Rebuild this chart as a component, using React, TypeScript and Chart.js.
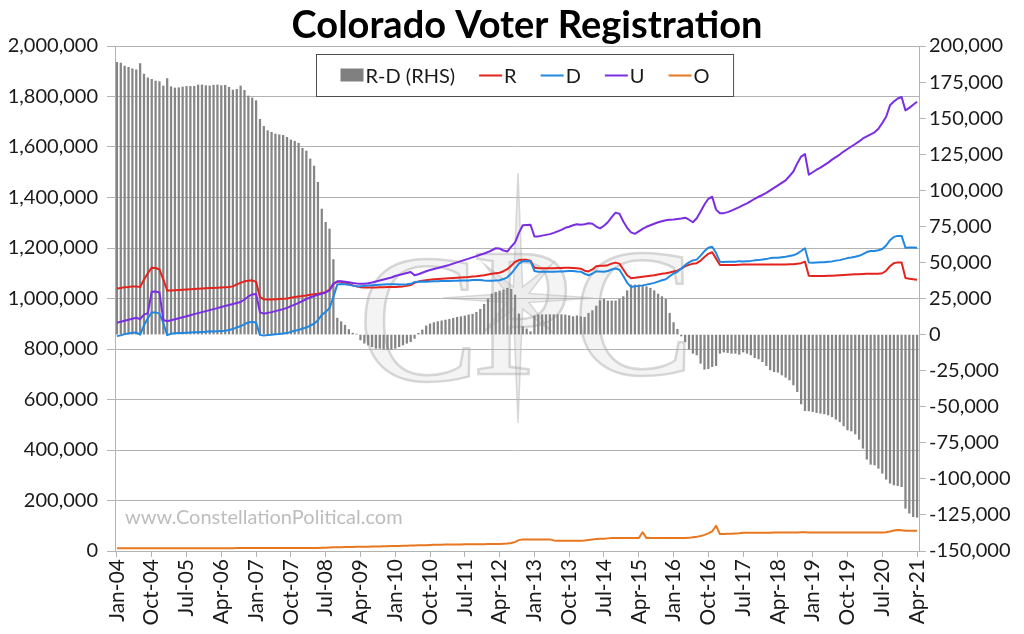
import React, { useEffect, useRef } from 'react';
import { Chart, registerables } from 'chart.js';

Chart.register(...registerables);

const FONT = "Lato, 'Open Sans', sans-serif";
const TITLE = 'Colorado Voter Registration';
const WATERMARK = 'www.ConstellationPolitical.com';

const MONTH_NAMES = ['Jan', 'Feb', 'Mar', 'Apr', 'May', 'Jun', 'Jul', 'Aug', 'Sep', 'Oct', 'Nov', 'Dec'];
const YEARS = ['04', '05', '06', '07', '08', '09', '10', '11', '12', '13', '14', '15', '16', '17', '18', '19', '20', '21'];
const LAST_MONTH_COUNT = 4; // Jan-21 .. Apr-21
const TICK_EVERY = 9;

const CATEGORIES: string[] = [];
YEARS.forEach((yy, yi) => {
  const n = yi === YEARS.length - 1 ? LAST_MONTH_COUNT : 12;
  for (let m = 0; m < n; m++) CATEGORIES.push(`${MONTH_NAMES[m]}-${yy}`);
});

// Values in thousands of voters
const R_VALUES = [
  1040, 1042, 1045, 1046, 1048, 1048, 1045, 1075, 1100, 1122, 1121, 1115,
  1075, 1032, 1032, 1033, 1034, 1035, 1036, 1037, 1038, 1039, 1040, 1041,
  1042, 1042, 1043, 1044, 1045, 1046, 1048, 1056, 1062, 1068, 1070, 1072,
  1066, 1005, 997, 996, 996, 997, 998, 999, 1000, 1003, 1006, 1008,
  1010, 1012, 1015, 1017, 1019, 1022, 1025, 1035, 1058, 1066, 1066, 1063,
  1058, 1052, 1048, 1045, 1044, 1044, 1044, 1044, 1045, 1045, 1046, 1046,
  1046, 1047, 1048, 1050, 1053, 1062, 1067, 1070, 1072, 1074, 1076, 1077,
  1078, 1079, 1080, 1081, 1082, 1083, 1084, 1085, 1087, 1088, 1090, 1092,
  1095, 1098, 1100, 1102, 1108, 1116, 1130, 1145, 1152, 1153, 1153, 1150,
  1122, 1120, 1120, 1120, 1120, 1120, 1121, 1121, 1122, 1122, 1121, 1120,
  1118, 1110, 1107, 1115, 1128, 1130, 1130, 1132, 1138, 1142, 1138, 1115,
  1092, 1080, 1082, 1084, 1086, 1088, 1090, 1092, 1095, 1098, 1100, 1103,
  1107, 1110, 1118, 1127, 1133, 1138, 1140, 1150, 1164, 1177, 1183, 1158,
  1133, 1133, 1133, 1133, 1133, 1134, 1135, 1135, 1135, 1135, 1135, 1135,
  1135, 1135, 1135, 1135, 1135, 1135, 1136, 1136, 1138, 1140, 1146, 1090,
  1089, 1089, 1089, 1089, 1090, 1090, 1091, 1092, 1093, 1094, 1095, 1096,
  1096, 1097, 1098, 1098, 1098, 1098, 1100, 1110, 1128, 1140, 1143, 1143,
  1081, 1078, 1076, 1074,
];

const D_VALUES = [
  851, 854, 859, 861, 864, 865, 857, 894, 922, 945, 945, 940,
  903, 855, 860, 862, 863, 863, 864, 865, 866, 866, 867, 868,
  870, 869, 870, 871, 872, 875, 879, 886, 890, 899, 905, 908,
  904, 856, 853, 855, 856, 858, 859, 861, 863, 868, 872, 875,
  881, 885, 893, 900, 914, 935, 947, 962, 1006, 1055, 1057, 1056,
  1054, 1051, 1048, 1049, 1050, 1051, 1052, 1053, 1054, 1055, 1056, 1056,
  1056, 1055, 1055, 1056, 1058, 1065, 1066, 1067, 1066, 1067, 1068, 1068,
  1069, 1069, 1069, 1070, 1070, 1071, 1071, 1071, 1073, 1073, 1073, 1071,
  1070, 1070, 1071, 1072, 1077, 1084, 1099, 1118, 1138, 1148, 1149, 1148,
  1109, 1106, 1106, 1106, 1106, 1106, 1107, 1107, 1108, 1109, 1109, 1107,
  1106, 1098, 1092, 1098, 1108, 1107, 1106, 1109, 1115, 1119, 1114, 1089,
  1062, 1046, 1048, 1050, 1052, 1055, 1058, 1062, 1067, 1072, 1076, 1088,
  1099, 1106, 1119, 1132, 1143, 1151, 1154, 1170, 1188, 1201, 1205, 1180,
  1146, 1145, 1146, 1146, 1146, 1148, 1147, 1148, 1149, 1151, 1152, 1154,
  1156, 1160, 1161, 1161, 1163, 1165, 1168, 1171, 1178, 1188, 1199, 1143,
  1142, 1143, 1144, 1144, 1146, 1147, 1150, 1152, 1156, 1160, 1162, 1165,
  1169, 1176, 1184, 1188, 1188, 1191, 1196, 1210, 1231, 1244, 1248, 1248,
  1201, 1202, 1202, 1201,
];

const U_VALUES = [
  904, 908, 912, 916, 920, 924, 918, 936, 942, 1027, 1028, 1024,
  915, 910, 914, 918, 922, 926, 930, 934, 938, 942, 946, 950,
  954, 958, 962, 966, 970, 974, 978, 982, 986, 996, 1008, 1016,
  1018, 945, 940, 943, 946, 950, 954, 958, 963, 970, 976, 983,
  990, 998, 1004, 1010, 1015, 1019, 1024, 1032, 1058, 1068, 1068, 1066,
  1064, 1061, 1059, 1058, 1058, 1060, 1063, 1067, 1071, 1075, 1079, 1083,
  1089, 1093, 1097, 1101, 1105, 1092, 1096, 1102, 1108, 1113, 1117, 1121,
  1125, 1129, 1133, 1138, 1143, 1148, 1153, 1158, 1163, 1168, 1173, 1178,
  1184, 1191, 1199, 1198, 1190, 1186, 1205, 1222, 1260, 1290, 1291, 1292,
  1246, 1246, 1249, 1252, 1255, 1260, 1266, 1272, 1280, 1284, 1290, 1294,
  1292, 1294, 1298, 1296, 1285, 1278, 1288, 1302, 1322, 1340, 1336, 1305,
  1280, 1262, 1256, 1266, 1276, 1284, 1290, 1296, 1302, 1306, 1310, 1312,
  1313, 1315, 1317, 1320, 1312, 1302, 1318, 1345, 1372, 1395, 1403, 1352,
  1338, 1338, 1342, 1348, 1355, 1362, 1370, 1377, 1386, 1395, 1403, 1410,
  1418, 1428, 1438, 1448, 1458, 1468, 1485, 1503, 1535, 1562, 1572, 1490,
  1500, 1510, 1518, 1528, 1538, 1550, 1560, 1570, 1582, 1592, 1602, 1612,
  1622, 1634, 1642, 1650, 1658, 1672, 1695, 1720, 1765, 1780, 1792, 1798,
  1745, 1755, 1767, 1779,
];

const O_VALUES = [
  10.5, 10.5, 10.6, 10.6, 10.7, 10.7, 10.8, 10.8, 10.9, 10.9, 11.0, 11.0,
  11.0, 11.0, 11.0, 11.0, 11.0, 11.0, 11.1, 11.1, 11.1, 11.1, 11.2, 11.2,
  11.2, 11.2, 11.2, 11.3, 11.3, 11.3, 11.3, 11.4, 11.4, 11.4, 11.4, 11.5,
  11.5, 11.5, 11.5, 11.5, 11.5, 11.6, 11.6, 11.6, 11.6, 11.6, 11.6, 11.6,
  11.7, 11.8, 11.9, 12.0, 12.2, 12.5, 13.0, 14.0, 15.0, 15.0, 15.2, 15.5,
  16.0, 16.0, 16.5, 17.0, 17.0, 17.2, 17.5, 18.0, 18.0, 18.5, 19.0, 19.5,
  20.0, 20.0, 20.5, 21.0, 22.0, 22.0, 22.5, 23.0, 23.0, 24.0, 25.0, 25.0,
  25.0, 25.5, 26.0, 26.0, 26.0, 26.0, 26.5, 27.0, 27.0, 27.0, 27.0, 27.0,
  27.5, 28.0, 28.0, 28.0, 29.0, 30.0, 32.0, 36.0, 43.0, 46.0, 46.0, 46.0,
  46.0, 46.0, 46.0, 46.0, 46.0, 42.0, 41.0, 41.0, 41.0, 41.0, 41.0, 41.0,
  41.0, 42.0, 44.0, 46.0, 48.0, 49.0, 49.0, 50.0, 51.0, 51.0, 51.0, 51.0,
  51.0, 51.0, 51.0, 51.0, 74.0, 51.0, 51.0, 51.0, 51.0, 51.0, 51.0, 51.0,
  51.0, 51.0, 51.0, 51.0, 52.0, 54.0, 56.0, 59.0, 64.0, 70.0, 78.0, 100.0,
  67.0, 67.0, 68.0, 68.0, 69.0, 70.0, 72.0, 72.0, 72.0, 72.0, 72.0, 72.0,
  72.0, 72.0, 73.0, 73.0, 73.0, 73.0, 73.0, 73.0, 73.0, 74.0, 74.0, 73.0,
  73.0, 73.0, 73.0, 73.0, 73.0, 73.0, 73.0, 73.0, 73.0, 73.0, 73.0, 73.0,
  73.0, 73.0, 73.0, 73.0, 73.0, 73.0, 73.0, 74.0, 77.0, 81.0, 83.0, 82.0,
  80.0, 80.0, 80.0, 80.0,
];

// R minus D, thousands (right-hand scale)
const RD_VALUES = [
  188.7, 188.2, 186.1, 185.2, 184.1, 183.4, 187.8, 180.6, 178.0, 176.9, 175.7, 175.3,
  172.3, 177.4, 171.8, 170.9, 171.1, 171.6, 172.0, 172.0, 172.0, 173.0, 173.0, 172.5,
  172.3, 172.8, 173.0, 172.5, 172.8, 171.4, 169.5, 170.0, 172.3, 169.3, 165.4, 164.0,
  162.1, 149.2, 144.3, 141.3, 140.2, 139.0, 138.5, 138.1, 136.7, 134.9, 134.0, 132.6,
  129.1, 127.2, 121.7, 116.8, 105.5, 87.0, 77.8, 73.2, 52.0, 11.4, 8.9, 6.5,
  3.5, 1.0, 0.3, -3.7, -6.0, -7.2, -8.4, -9.5, -9.5, -10.2, -10.2, -10.2,
  -9.5, -8.4, -7.2, -6.0, -4.9, -2.6, 0.9, 3.2, 6.0, 7.4, 8.3, 9.0,
  9.5, 10.1, 10.6, 11.3, 12.0, 12.4, 12.9, 13.6, 14.1, 15.4, 17.5, 21.0,
  24.7, 28.1, 29.3, 30.2, 30.9, 32.1, 31.4, 27.4, 14.3, 5.5, 3.9, 2.0,
  12.9, 13.6, 13.8, 13.8, 13.8, 13.8, 13.8, 13.8, 13.6, 13.1, 12.4, 13.0,
  12.4, 12.0, 14.8, 16.6, 19.8, 23.5, 24.5, 23.3, 23.3, 23.3, 24.5, 26.3,
  30.4, 34.4, 34.4, 34.4, 33.9, 33.2, 32.1, 30.4, 28.1, 26.3, 24.5, 14.8,
  8.3, 3.7, -1.0, -5.0, -10.2, -13.0, -14.1, -19.9, -24.0, -23.6, -22.2, -21.5,
  -13.0, -12.1, -12.5, -13.0, -13.0, -13.7, -12.1, -13.0, -14.1, -16.0, -16.9, -18.8,
  -21.5, -24.5, -25.7, -26.1, -28.0, -29.6, -31.5, -34.9, -39.6, -48.1, -52.7, -52.9,
  -53.4, -54.1, -54.5, -55.0, -55.7, -56.9, -58.7, -60.4, -63.3, -66.1, -66.8, -68.9,
  -72.6, -78.8, -86.4, -89.9, -90.4, -92.7, -96.1, -100.3, -103.0, -104.2, -104.7, -105.4,
  -120.4, -123.8, -126.2, -126.6,
];

const COLORS = {
  bar: '#858585',
  R: '#e3231d',
  D: '#2187e0',
  U: '#7a2ee4',
  O: '#e8771f',
  grid: '#b3b3b3',
  text: '#1a1a1a',
};

const LEGEND_ITEMS = [
  { label: 'R-D (RHS)', color: '#808080', kind: 'box' },
  { label: 'R', color: COLORS.R, kind: 'line' },
  { label: 'D', color: COLORS.D, kind: 'line' },
  { label: 'U', color: COLORS.U, kind: 'line' },
  { label: 'O', color: COLORS.O, kind: 'line' },
];

const fmt = (v: any) => (Number(v) * 1000).toLocaleString('en-US');

const decorPlugin = {
  id: 'decor',
  beforeDatasetsDraw(chart: any) {
    const { ctx, chartArea: ca } = chart;
    ctx.save();
    // faint compass star of the logo
    const cx = ca.left + 403;
    const cy = ca.top + 252;
    const outer = [125, 48, 75, 48, 125, 48, 75, 48];
    ctx.beginPath();
    for (let k = 0; k < 8; k++) {
      const a1 = (k * Math.PI) / 4 - Math.PI / 2;
      const a2 = a1 + Math.PI / 8;
      const p1x = cx + outer[k] * Math.cos(a1);
      const p1y = cy + outer[k] * Math.sin(a1);
      const p2x = cx + 12 * Math.cos(a2);
      const p2y = cy + 12 * Math.sin(a2);
      if (k === 0) ctx.moveTo(p1x, p1y);
      else ctx.lineTo(p1x, p1y);
      ctx.lineTo(p2x, p2y);
    }
    ctx.closePath();
    ctx.fillStyle = 'rgba(200,200,200,0.32)';
    ctx.fill();
    ctx.strokeStyle = 'rgba(175,175,175,0.45)';
    ctx.lineWidth = 1.5;
    ctx.stroke();
    // faint CPC monogram
    ctx.font = "182px 'Liberation Serif', 'DejaVu Serif', serif";
    ctx.textBaseline = 'alphabetic';
    ctx.textAlign = 'left';
    ctx.fillStyle = 'rgba(205,205,205,0.22)';
    ctx.strokeStyle = 'rgba(160,160,160,0.40)';
    ctx.lineWidth = 2.5;
    const letters = [
      { t: 'C', dx: 243, dy: 334 },
      { t: 'P', dx: 357, dy: 328 },
      { t: 'C', dx: 458, dy: 328 },
    ];
    letters.forEach((l) => {
      ctx.fillText(l.t, ca.left + l.dx, ca.top + l.dy);
      ctx.strokeText(l.t, ca.left + l.dx, ca.top + l.dy);
    });
    // website watermark
    ctx.font = `20px ${FONT}`;
    ctx.fillStyle = '#bdbdbd';
    ctx.textBaseline = 'middle';
    ctx.fillText(WATERMARK, ca.left + 10, ca.bottom - 33);
    ctx.restore();
  },
  afterDraw(chart: any) {
    const { ctx, chartArea: ca } = chart;
    ctx.save();
    // title
    ctx.font = `bold 38px ${FONT}`;
    ctx.fillStyle = '#000';
    ctx.textAlign = 'center';
    ctx.textBaseline = 'middle';
    ctx.fillText(TITLE, 527, 26);

    // legend
    ctx.font = `20px ${FONT}`;
    ctx.textAlign = 'left';
    const symW = 23;
    const symGap = 2;
    const itemGap = 24;
    const widths = LEGEND_ITEMS.map((it) => symW + symGap + ctx.measureText(it.label).width);
    const total = widths.reduce((a, b) => a + b, 0) + itemGap * (LEGEND_ITEMS.length - 1);
    const padX = 24;
    const boxW = total + padX * 2;
    const boxH = 42;
    const centerX = ca.left + 410;
    const boxX = Math.round(centerX - boxW / 2) + 0.5;
    const boxY = ca.top + 8.5;
    ctx.fillStyle = '#ffffff';
    ctx.fillRect(boxX, boxY, boxW, boxH);
    ctx.strokeStyle = '#4d4d4d';
    ctx.lineWidth = 1;
    ctx.strokeRect(boxX, boxY, boxW, boxH);
    let x = boxX + padX;
    const midY = boxY + boxH / 2;
    LEGEND_ITEMS.forEach((it, i) => {
      if (it.kind === 'box') {
        ctx.fillStyle = it.color;
        ctx.fillRect(x, midY - 7, symW, 13);
      } else {
        ctx.strokeStyle = it.color;
        ctx.lineWidth = 2;
        ctx.beginPath();
        ctx.moveTo(x, midY);
        ctx.lineTo(x + symW, midY);
        ctx.stroke();
      }
      ctx.fillStyle = COLORS.text;
      ctx.fillText(it.label, x + symW + symGap, midY + 1);
      x += widths[i] + itemGap;
    });
    ctx.restore();
  },
};

export default function App() {
  const canvasRef = useRef<HTMLCanvasElement | null>(null);

  useEffect(() => {
    const canvas = canvasRef.current;
    if (!canvas) return;
    Chart.defaults.font.family = FONT;
    const lineDs = (label: string, data: number[], color: string, order: number) => ({
      type: 'line' as const,
      label,
      data,
      yAxisID: 'y',
      borderColor: color,
      backgroundColor: color,
      borderWidth: 2,
      pointRadius: 0,
      tension: 0,
      borderJoinStyle: 'round' as const,
      fill: false,
      order,
    });
    const chart = new Chart(canvas, {
      type: 'bar',
      data: {
        labels: CATEGORIES,
        datasets: [
          {
            type: 'bar',
            label: 'R-D (RHS)',
            data: RD_VALUES,
            yAxisID: 'y1',
            backgroundColor: COLORS.bar,
            borderWidth: 0,
            barThickness: 1.6,
            order: 5,
          } as any,
          lineDs('R', R_VALUES, COLORS.R, 4),
          lineDs('D', D_VALUES, COLORS.D, 3),
          lineDs('U', U_VALUES, COLORS.U, 2),
          lineDs('O', O_VALUES, COLORS.O, 1),
        ],
      },
      options: {
        responsive: false,
        animation: false,
        layout: { padding: { top: 46, left: 0, right: 0, bottom: 0 } },
        plugins: {
          legend: { display: false },
          title: { display: false },
          tooltip: { enabled: false },
        },
        scales: {
          x: {
            type: 'category',
            offset: true,
            grid: {
              display: true,
              drawOnChartArea: false,
              drawTicks: true,
              tickLength: 6,
              offset: false,
              color: COLORS.grid,
            },
            border: { display: true, color: COLORS.grid },
            ticks: {
              autoSkip: false,
              maxRotation: 90,
              minRotation: 90,
              padding: 2,
              color: COLORS.text,
              font: { size: 21, family: FONT },
              callback: function (this: any, val: any, idx: number) {
                return idx % TICK_EVERY === 0 ? CATEGORIES[idx] : null;
              },
            },
            afterFit: (s: any) => {
              s.height = 83;
            },
          },
          y: {
            position: 'left',
            min: 0,
            max: 2000,
            ticks: {
              stepSize: 200,
              callback: fmt,
              padding: 9,
              color: COLORS.text,
              font: { size: 20, family: FONT },
            },
            grid: { color: COLORS.grid, tickLength: 8, drawTicks: true },
            border: { display: true, color: COLORS.grid },
            afterFit: (s: any) => {
              s.width = 115;
            },
          },
          y1: {
            position: 'right',
            min: -150,
            max: 200,
            ticks: {
              stepSize: 25,
              callback: fmt,
              padding: 3,
              color: COLORS.text,
              font: { size: 20, family: FONT },
            },
            grid: { drawOnChartArea: false, tickLength: 7, color: COLORS.grid },
            border: { display: true, color: COLORS.grid },
            afterFit: (s: any) => {
              s.width = 105;
            },
          },
        } as any,
      },
      plugins: [decorPlugin],
    } as any);
    return () => chart.destroy();
  }, []);

  return (
    <div style={{ position: 'absolute', left: 0, top: 0, width: 1024, height: 634, background: '#fff' }}>
      <canvas ref={canvasRef} width={1024} height={634} style={{ display: 'block' }} />
    </div>
  );
}
